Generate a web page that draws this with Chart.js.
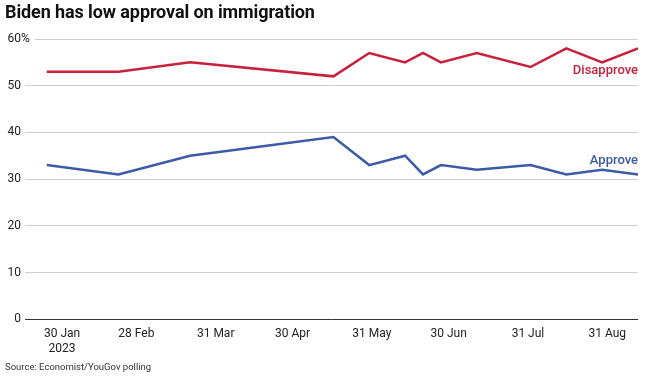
<!DOCTYPE html>
<html>
<head>
<meta charset="utf-8">
<script src="https://cdn.jsdelivr.net/npm/chart.js@4"></script>
<style>
  html, body { margin: 0; padding: 0; background: #fff; }
  #wrap { position: relative; width: 650px; height: 376px; overflow: hidden; }
  #title { position: absolute; left: 5px; top: 1px; font-family: Roboto, sans-serif; font-weight: 700; font-size: 18px; color: #111; letter-spacing: -0.1px; }
  #source { position: absolute; left: 5px; top: 361px; font-family: Roboto, sans-serif; font-size: 9.5px; color: #333; }
  canvas { position: absolute; left: 0; top: 0; }
</style>
</head>
<body>
<div id="wrap">
  <canvas id="c" width="650" height="376"></canvas>
  <div id="title">Biden has low approval on immigration</div>
  <div id="source">Source: Economist/YouGov polling</div>
</div>
<script>
// ---- data ----
const pollDates = ['2023-01-24','2023-02-21','2023-03-21','2023-05-16','2023-05-30','2023-06-13','2023-06-20','2023-06-27','2023-07-11','2023-08-01','2023-08-15','2023-08-29','2023-09-12'];
const disapprove = [53,53,55,52,57,55,57,55,57,54,58,55,58];
const approve    = [33,31,35,39,33,35,31,33,32,33,31,32,31];
const tickDates  = ['2023-01-30','2023-02-28','2023-03-31','2023-04-30','2023-05-31','2023-06-30','2023-07-31','2023-08-31'];
const tickLabels = [['30 Jan','2023'],'28 Feb','31 Mar','30 Apr','31 May','30 Jun','31 Jul','31 Aug'];
const yTicks = [0,10,20,30,40,50,60];

const dayOf = s => (Date.parse(s + 'T00:00:00Z') - Date.UTC(2023,0,1)) / 86400000;
const xDays = pollDates.map(dayOf);
const tickDays = tickDates.map(dayOf);

const RED = '#c8213b', BLUE = '#3b5aa8';
const FONT = 'Roboto, sans-serif';

const labelPlugin = {
  id: 'labels',
  afterDraw(chart) {
    const ctx = chart.ctx, y = chart.scales.y, area = chart.chartArea;
    ctx.save();
    ctx.font = '12px ' + FONT;
    ctx.textBaseline = 'middle';
    yTicks.forEach(v => {
      const py = y.getPixelForValue(v);
      if (v === 60) { ctx.fillStyle = '#fff'; ctx.fillRect(area.left - 2, py - 3, 12, 6); }
      ctx.fillStyle = '#222';
      ctx.textAlign = 'right';
      ctx.fillText(String(v), 21, py);
      if (v === 60) { ctx.textAlign = 'left'; ctx.fillText('%', 21, py); }
    });
    ctx.font = '500 13px ' + FONT;
    ctx.textAlign = 'right';
    ctx.fillStyle = RED;
    ctx.fillText('Disapprove', area.right, y.getPixelForValue(disapprove[disapprove.length-1]) + 22);
    ctx.fillStyle = BLUE;
    ctx.fillText('Approve', area.right, y.getPixelForValue(approve[approve.length-1]) - 14);
    ctx.restore();
  }
};

new Chart(document.getElementById('c'), {
  type: 'line',
  data: {
    datasets: [
      { label: 'Disapprove', data: xDays.map((d,i)=>({x:d,y:disapprove[i]})), borderColor: RED, borderWidth: 2.5, pointRadius: 0, tension: 0, fill: false },
      { label: 'Approve', data: xDays.map((d,i)=>({x:d,y:approve[i]})), borderColor: BLUE, borderWidth: 2.5, pointRadius: 0, tension: 0, fill: false }
    ]
  },
  options: {
    responsive: false,
    animation: false,
    events: [],
    layout: { padding: { left: 25, right: 12, top: 39, bottom: 12 } },
    plugins: { legend: { display: false }, tooltip: { enabled: false }, title: { display: false } },
    scales: {
      x: {
        type: 'linear',
        min: 14.5, max: 254,
        border: { display: false },
        grid: { display: false, drawTicks: false },
        afterBuildTicks: s => { s.ticks = tickDays.map(v => ({ value: v })); },
        ticks: {
          autoSkip: false, maxRotation: 0, padding: 8,
          color: '#222', font: { family: FONT, size: 12, lineHeight: 1.2 },
          callback: (v) => { const i = tickDays.indexOf(v); return i >= 0 ? tickLabels[i] : ''; }
        }
      },
      y: {
        min: 0, max: 60,
        border: { display: false },
        afterBuildTicks: s => { s.ticks = yTicks.map(v => ({ value: v })); },
        grid: { drawTicks: false, color: c => c.tick && c.tick.value === 0 ? '#333' : '#cfcfcf', lineWidth: 1 },
        ticks: { display: false }
      }
    }
  },
  plugins: [labelPlugin]
});
</script>
</body>
</html>
